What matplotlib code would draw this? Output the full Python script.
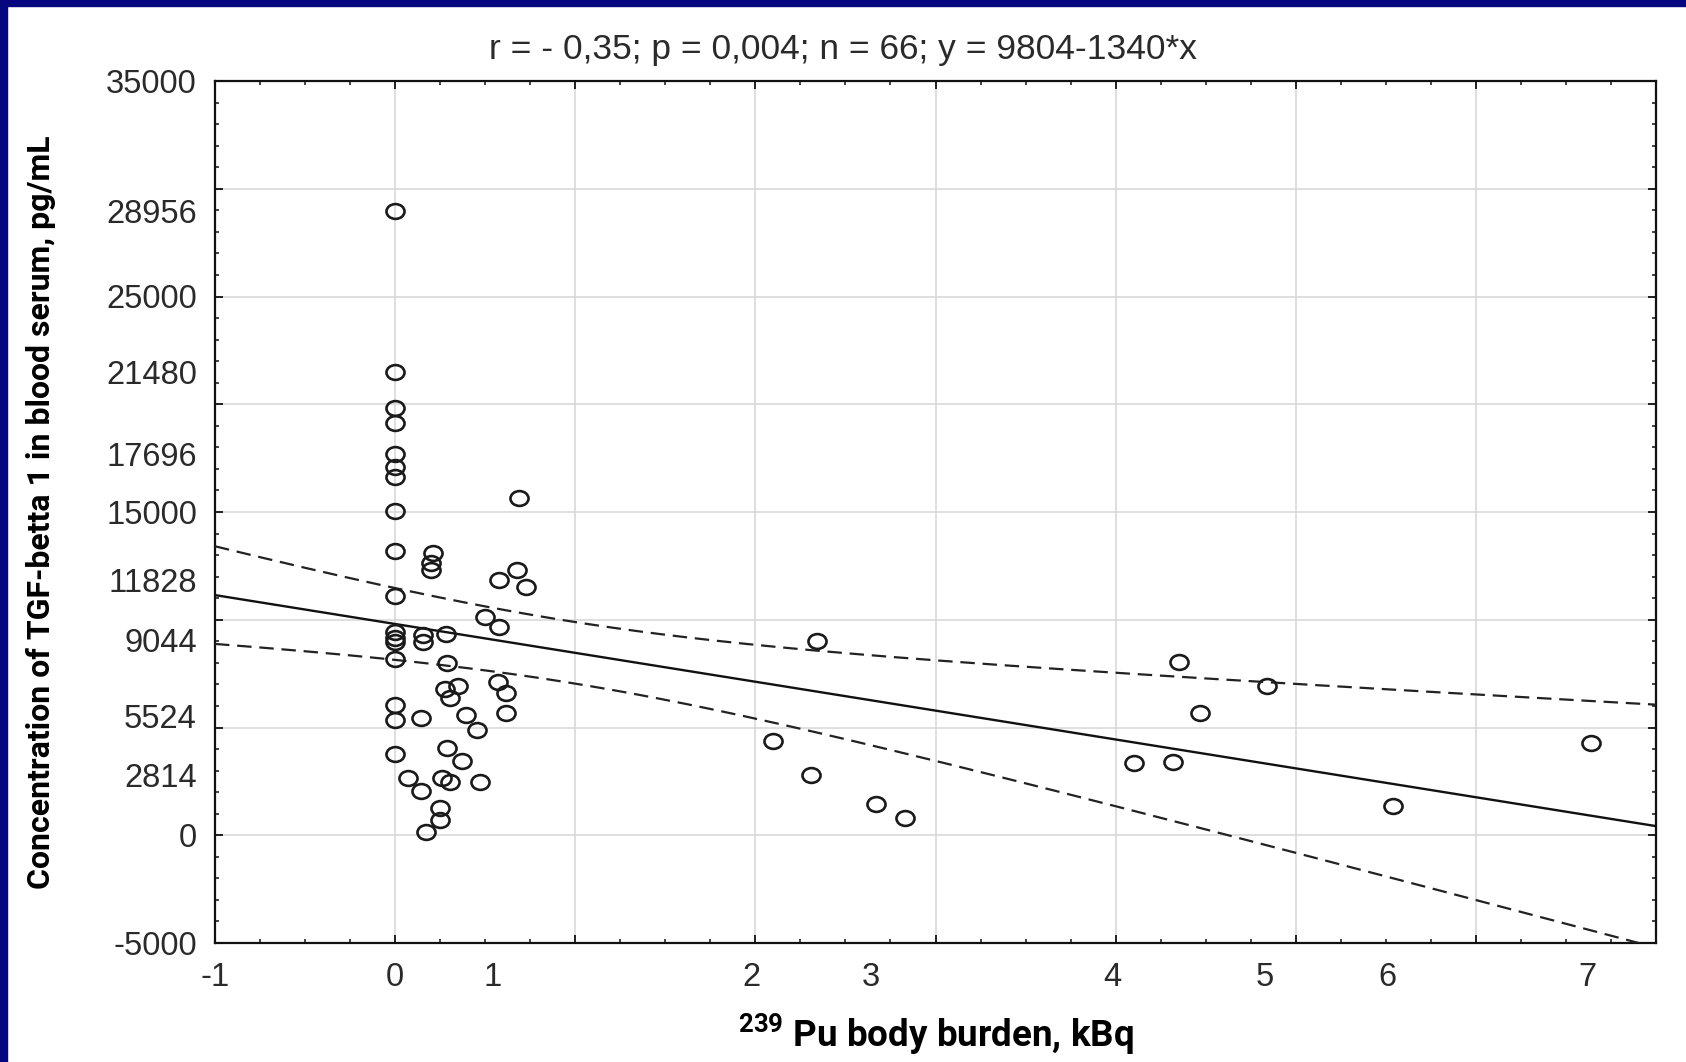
import numpy as np
import matplotlib.pyplot as plt
from matplotlib.ticker import MultipleLocator
from matplotlib.path import Path
from matplotlib.transforms import Affine2D

# Pu body burden (kBq) vs TGF-beta 1 concentration (pg/mL)
pu_x = [0.0] * 17 + [
    0.21, 0.20, 0.20, 0.155, 0.155, 0.28, 0.29,
    0.276, 0.35, 0.304, 0.572, 0.618, 0.618, 0.141,
    0.396, 0.455, 0.29, 0.369, 0.073, 0.143, 0.259, 0.304,
    0.471, 0.249, 0.249, 0.17, 0.69,
    0.578, 0.679, 0.725, 0.499, 0.578,
    2.34, 2.10, 2.31, 2.67, 2.83,
    4.10, 4.32, 4.35, 4.47, 4.84, 5.54, 6.64,
]
tgf_y = [
    28956, 21480, 19840, 19140, 17696, 17100, 16630, 15050, 13200,
    11100, 9410, 9140, 8950, 8160, 6040, 5350, 3770,
    13075, 12640, 12300, 9290, 8975, 9360, 7990,
    6770, 6935, 6350, 7120, 6580, 5650, 5425,
    5580, 4880, 4060, 3460, 2640, 2050, 2640, 2480,
    2480, 1250, 710, 170, 15650,
    11840, 12300, 11530, 10110, 9645,
    9025, 4390, 2800, 1450, 790,
    3340, 3420, 8030, 5650, 6920, 1350, 4300,
]

# regression from the title
intercept = 9804
slope = -1340
t_crit = 2.0

# tick labels as printed in the original
x_tick_pos = [-1, 0, 0.54, 1.98, 2.64, 3.98, 4.83, 5.51, 6.62]
x_tick_lab = ['-1', '0', '1', '2', '3', '4', '5', '6', '7']
y_tick_val = [35000, 28956, 25000, 21480, 17696, 15000, 11828, 9044, 5524, 2814, 0, -5000]

title = 'r = - 0,35; p = 0,004; n = 66; y = 9804-1340*x'

plt.rcParams['font.family'] = ['Liberation Sans', 'DejaVu Sans']
plt.rcParams['mathtext.default'] = 'regular'
label_font = ['Roboto', 'DejaVu Sans']

W, H = 1686, 1062
fig = plt.figure(figsize=(W / 100, H / 100), dpi=100)
fig.patch.set_facecolor('white')

# navy frame at the top and left edge
navy = '#06067e'
fig.add_artist(plt.Rectangle((0, 1 - 6 / H), 1, 6 / H, transform=fig.transFigure, color=navy, zorder=0))
fig.add_artist(plt.Rectangle((0, 0), 7 / W, 1, transform=fig.transFigure, color=navy, zorder=0))

ax = fig.add_axes([215 / W, 1 - 943 / H, (1656 - 215) / W, (943 - 81) / H])

x = np.array(pu_x)
y = np.array(tgf_y)

# confidence band for the regression line
xs = np.linspace(-1, 7, 300)
fit = intercept + slope * xs
n = len(x)
resid = y - (intercept + slope * x)
s = np.sqrt(np.sum(resid ** 2) / (n - 2))
sxx = np.sum((x - x.mean()) ** 2)
hw = t_crit * s * np.sqrt(1 / n + (xs - x.mean()) ** 2 / sxx)

ax.plot(xs, fit, color='#111111', lw=1.7, zorder=3)
ax.plot(xs, fit + hw, color='#222222', lw=1.6, dashes=(6.5, 3.5), zorder=3)
ax.plot(xs, fit - hw, color='#222222', lw=1.6, dashes=(6.5, 3.5), zorder=3)

ellipse = Affine2D().scale(1.0, 0.82).transform_path(Path.unit_circle())
ax.plot(x, y, linestyle='none', marker=ellipse, ms=13, mfc='none',
        mec='#1a1a1a', mew=1.9, zorder=4)

ax.set_xlim(-1, 7)
ax.set_ylim(-5000, 35000)
ax.xaxis.set_major_locator(MultipleLocator(1))
ax.xaxis.set_minor_locator(MultipleLocator(0.25))
ax.yaxis.set_major_locator(MultipleLocator(5000))
ax.yaxis.set_minor_locator(MultipleLocator(1000))
ax.tick_params(which='both', direction='in', top=True, right=True,
               labelbottom=False, labelleft=False, color='#111111')
ax.tick_params(which='major', length=6, width=1.3)
ax.tick_params(which='minor', length=3, width=1.1)
ax.grid(which='major', color='#d6d6d6', lw=1.1)
ax.set_axisbelow(True)
for sp in ax.spines.values():
    sp.set_linewidth(1.6)
    sp.set_color('#111111')

# printed tick labels
secx = ax.secondary_xaxis('bottom')
secx.set_xticks(x_tick_pos, x_tick_lab)
secx.tick_params(length=0, pad=14, labelsize=23.5, labelcolor='#2a2a2a')
secx.spines['bottom'].set_visible(False)
secx.set_xlabel(r'$^{239}$ Pu body burden, kBq', family=label_font,
                fontweight='bold', fontsize=26.5, labelpad=13)

secy = ax.secondary_yaxis('left')
secy.set_yticks(y_tick_val, [str(v) for v in y_tick_val])
secy.tick_params(length=0, pad=13, labelsize=23.5, labelcolor='#2a2a2a')
secy.spines['left'].set_visible(False)
secy.set_ylabel('Concentration of TGF-betta 1 in blood serum, pg/mL',
                family=label_font, fontweight='bold', fontsize=23, labelpad=36)

fig.text(0.5, 1 - 49 / H, title, ha='center', va='center', fontsize=25.5, color='#2a2a2a')

fig.savefig('out.png', dpi=100)
